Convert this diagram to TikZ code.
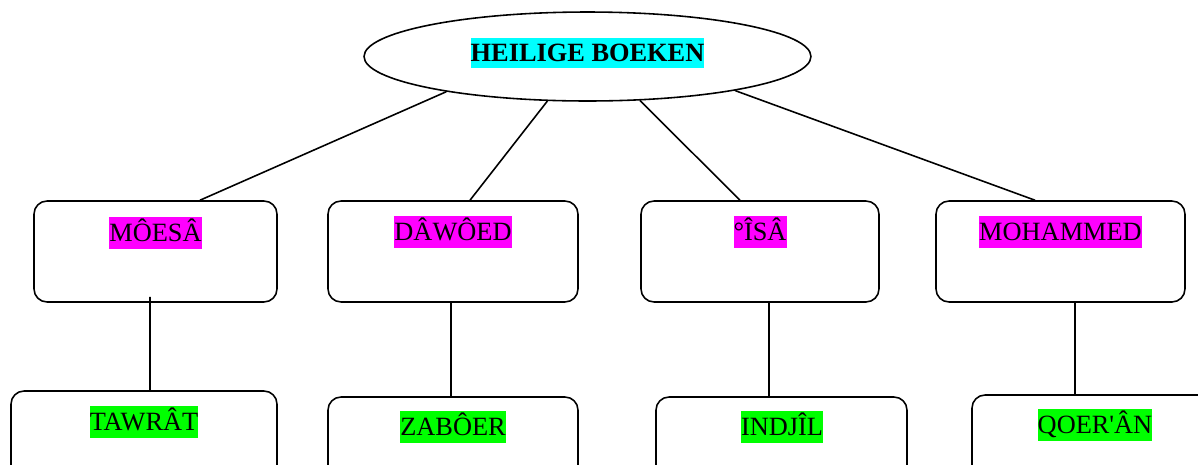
\documentclass[tikz,border=0pt]{standalone}
\usepackage{fontspec}
\setmainfont{Liberation Serif}
\usetikzlibrary{shapes.geometric,calc}
\definecolor{hlcyan}{HTML}{00FFFF}
\definecolor{hlpink}{HTML}{FF00FF}
\definecolor{hlgreen}{HTML}{00FF00}

\begin{document}
\begin{tikzpicture}[x=0.02cm,y=-0.02cm,line width=0.9pt,
 box/.style={draw,rounded corners=0.26cm,minimum height=2.02cm,inner sep=0pt},
 tag/.style={inner sep=0pt,text height=14pt,text depth=4pt,font=\fontsize{15}{18}\selectfont}]
 \useasboundingbox (0,0) rectangle (1198,464);
 \clip (0,0) rectangle (1198,464);
 % top
 \node[draw,ellipse,minimum width=8.94cm,minimum height=1.78cm,inner sep=0pt] (boeken) at (587.5,56.5) {};
 \node[tag,fill=hlcyan,text height=13.5pt,text depth=3.5pt,font=\fontsize{15}{18}\selectfont\bfseries] (boekenT) at (587.5,53) {HEILIGE BOEKEN};
 % prophets
 \node[box,minimum width=4.86cm] (moesa) at (155.5,251.5) {};
 \node[box,minimum width=5.00cm] (dawoed) at (453,251.5) {};
 \node[box,minimum width=4.76cm] (isa) at (760,251.5) {};
 \node[box,minimum width=4.98cm] (mohammed) at (1060.5,251.5) {};
 \node[tag,fill=hlpink] (moesaT) at (155.5,233) {MÔESÂ};
 \node[tag,fill=hlpink] (dawoedT) at (453,232) {DÂWÔED};
 \node[tag,fill=hlpink] (isaT) at (760,232) {°ÎSÂ};
 \node[tag,fill=hlpink] (mohammedT) at (1060.5,232) {MOHAMMED};
 % books
 \node[box,minimum width=5.32cm] (tawrat) at (144,441.5) {};
 \node[box,minimum width=5.00cm] (zaboer) at (453,447.5) {};
 \node[box,minimum width=5.02cm] (indjil) at (781.5,447.5) {};
 \node[box,minimum width=4.92cm] (qoeran) at (1095,445.5) {};
 \node[tag,fill=hlgreen] (tawratT) at (144,422) {TAWRÂT};
 \node[tag,fill=hlgreen] (zaboerT) at (453,427) {ZABÔER};
 \node[tag,fill=hlgreen] (indjilT) at (782,427) {INDJÎL};
 \node[tag,fill=hlgreen] (qoeranT) at (1095,425) {QOER\textquotesingle ÂN};
 % links
 \draw (boeken.194) -- ([xshift=0.89cm]moesa.north);
 \draw (boeken.228) -- ([xshift=0.34cm]dawoed.north);
 \draw (boeken.320) -- ([xshift=-0.4cm]isa.north);
 \draw (boeken.347) -- ([xshift=-0.51cm]mohammed.north);
 \draw ([xshift=-0.11cm,yshift=0.12cm]moesa.south) -- ([xshift=0.12cm]tawrat.north);
 \draw ([xshift=-0.04cm]dawoed.south) -- ([xshift=-0.04cm]zaboer.north);
 \draw ([xshift=0.18cm]isa.south) -- ([xshift=-0.25cm]indjil.north);
 \draw ([xshift=0.29cm]mohammed.south) -- ([xshift=-0.4cm]qoeran.north);
\end{tikzpicture}
\end{document}
